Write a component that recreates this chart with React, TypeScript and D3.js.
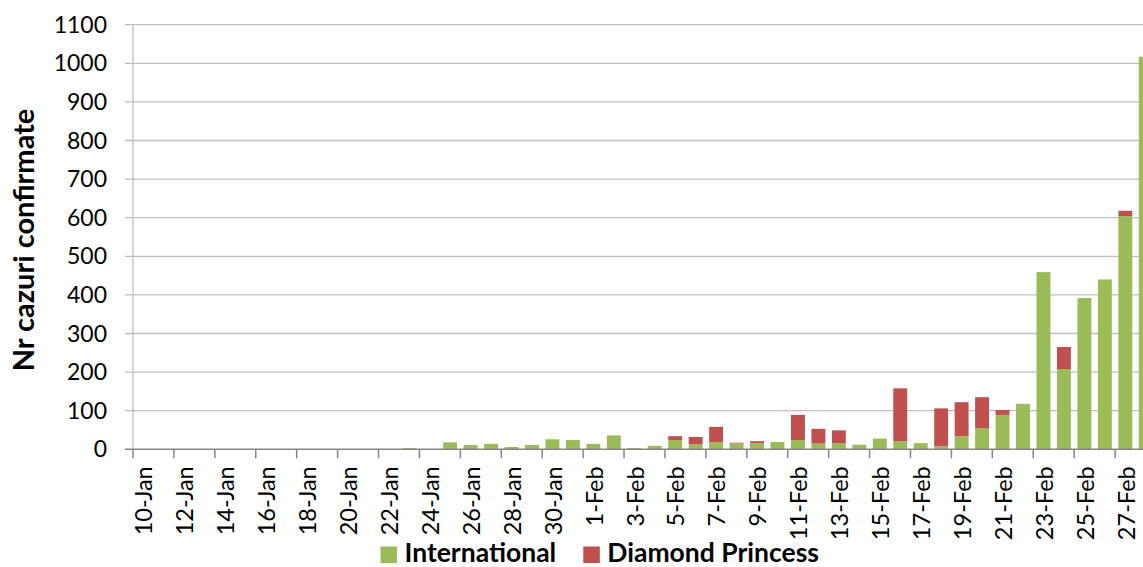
import React, { useRef, useEffect } from 'react';
import * as d3 from 'd3';

const categories = [
  '10-Jan', '11-Jan', '12-Jan', '13-Jan', '14-Jan', '15-Jan', '16-Jan', '17-Jan', '18-Jan', '19-Jan',
  '20-Jan', '21-Jan', '22-Jan', '23-Jan', '24-Jan', '25-Jan', '26-Jan', '27-Jan', '28-Jan', '29-Jan',
  '30-Jan', '31-Jan', '1-Feb', '2-Feb', '3-Feb', '4-Feb', '5-Feb', '6-Feb', '7-Feb', '8-Feb',
  '9-Feb', '10-Feb', '11-Feb', '12-Feb', '13-Feb', '14-Feb', '15-Feb', '16-Feb', '17-Feb', '18-Feb',
  '19-Feb', '20-Feb', '21-Feb', '22-Feb', '23-Feb', '24-Feb', '25-Feb', '26-Feb', '27-Feb', '28-Feb',
];

const international = [
  0, 0, 0, 0, 0, 0, 0, 0, 0, 0,
  0, 0, 0, 3, 0, 18, 11, 14, 6, 11,
  26, 24, 14, 36, 3, 9, 24, 13, 19, 15,
  16, 19, 24, 15, 16, 12, 28, 21, 16, 8,
  34, 55, 89, 118, 459, 208, 392, 440, 604, 1017,
];

const diamondPrincess = [
  0, 0, 0, 0, 0, 0, 0, 0, 0, 0,
  0, 0, 0, 0, 0, 0, 0, 0, 0, 0,
  0, 0, 0, 0, 0, 0, 10, 19, 39, 2,
  5, 0, 65, 38, 33, 0, 0, 137, 0, 98,
  88, 80, 13, 0, 0, 57, 0, 0, 14, 0,
];

const yTicks = [0, 100, 200, 300, 400, 500, 600, 700, 800, 900, 1000, 1100];

const seriesNames = ['International', 'Diamond Princess'];
const colors = ['#9BBB59', '#C0504D'];

function Chart() {
  const svgRef = useRef<SVGSVGElement>(null);

  useEffect(() => {
    const width = 1143;
    const height = 567;
    const left = 133;
    const top = 24.7;
    const bottom = 449.3;
    const step = 20.46;
    const font = 'Lato, "Open Sans", sans-serif';

    const svg = d3.select(svgRef.current);
    svg.selectAll('*').remove();
    svg.attr('width', width).attr('height', height);

    const rows = categories.map((c, i) => ({
      cat: c,
      International: international[i],
      'Diamond Princess': diamondPrincess[i],
    }));

    const x = d3.scaleBand()
      .domain(categories)
      .range([left, left + step * categories.length])
      .paddingInner(0.32)
      .paddingOuter(0.16);

    const y = d3.scaleLinear().domain([0, 1100]).range([bottom, top]);

    // gridlines
    svg.append('g')
      .selectAll('line')
      .data(yTicks.filter(t => t > 0))
      .join('line')
      .attr('x1', left - 8)
      .attr('x2', width)
      .attr('y1', d => y(d))
      .attr('y2', d => y(d))
      .attr('stroke', '#BFBFBF')
      .attr('stroke-width', 1.3);

    // y axis line
    svg.append('line')
      .attr('x1', left).attr('x2', left)
      .attr('y1', y(1100)).attr('y2', bottom)
      .attr('stroke', '#BFBFBF').attr('stroke-width', 1.3);

    // y labels
    svg.append('g')
      .selectAll('text')
      .data(yTicks)
      .join('text')
      .attr('x', 107)
      .attr('y', d => y(d))
      .attr('dy', '0.35em')
      .attr('text-anchor', 'end')
      .style('font-family', font)
      .style('font-size', '23px')
      .style('fill', '#000')
      .text(d => d);

    // stacked bars
    const stacked = d3.stack<any>().keys(seriesNames)(rows);
    stacked.forEach((layer, k) => {
      svg.append('g')
        .selectAll('rect')
        .data(layer)
        .join('rect')
        .attr('x', d => x(d.data.cat) as number)
        .attr('width', x.bandwidth())
        .attr('y', d => y(d[1]))
        .attr('height', d => y(d[0]) - y(d[1]))
        .attr('fill', colors[k]);
    });

    // x axis line + ticks
    svg.append('line')
      .attr('x1', left - 8).attr('x2', width)
      .attr('y1', bottom).attr('y2', bottom)
      .attr('stroke', '#868686').attr('stroke-width', 1.5);

    const tickCats = categories.filter((c, i) => i % 2 === 0);
    svg.append('g')
      .selectAll('line')
      .data(tickCats)
      .join('line')
      .attr('x1', d => (x(d) as number) - x.step() * x.paddingInner() / 2)
      .attr('x2', d => (x(d) as number) - x.step() * x.paddingInner() / 2)
      .attr('y1', bottom)
      .attr('y2', bottom + 9)
      .attr('stroke', '#868686')
      .attr('stroke-width', 1.5);

    // x labels (every second day)
    svg.append('g')
      .selectAll('text')
      .data(tickCats)
      .join('text')
      .attr('transform', d => `translate(${(x(d) as number) + x.bandwidth() / 2 + 1},${bottom + 17}) rotate(-90)`)
      .attr('dy', '0.35em')
      .attr('text-anchor', 'end')
      .style('font-family', font)
      .style('font-size', '23.5px')
      .style('fill', '#000')
      .text(d => d);

    // y title
    svg.append('text')
      .attr('transform', `translate(34,240) rotate(-90)`)
      .attr('text-anchor', 'middle')
      .style('font-family', font)
      .style('font-weight', 'bold')
      .style('font-size', '29px')
      .style('fill', '#000')
      .text('Nr cazuri confirmate');

    // legend
    const legendX = [380.5, 583.3];
    seriesNames.forEach((name, k) => {
      svg.append('rect')
        .attr('x', legendX[k])
        .attr('y', 546.5)
        .attr('width', 16.5)
        .attr('height', 16.5)
        .attr('fill', colors[k]);
      svg.append('text')
        .attr('x', legendX[k] + 24)
        .attr('y', 561.5)
        .style('font-family', font)
        .style('font-weight', 'bold')
        .style('font-size', '26.5px')
        .style('fill', '#000')
        .text(name);
    });
  }, []);

  return <svg ref={svgRef} style={{ position: 'absolute', left: 0, top: 0, overflow: 'hidden' }}></svg>;
}

export default function App() {
  return <Chart />;
}
